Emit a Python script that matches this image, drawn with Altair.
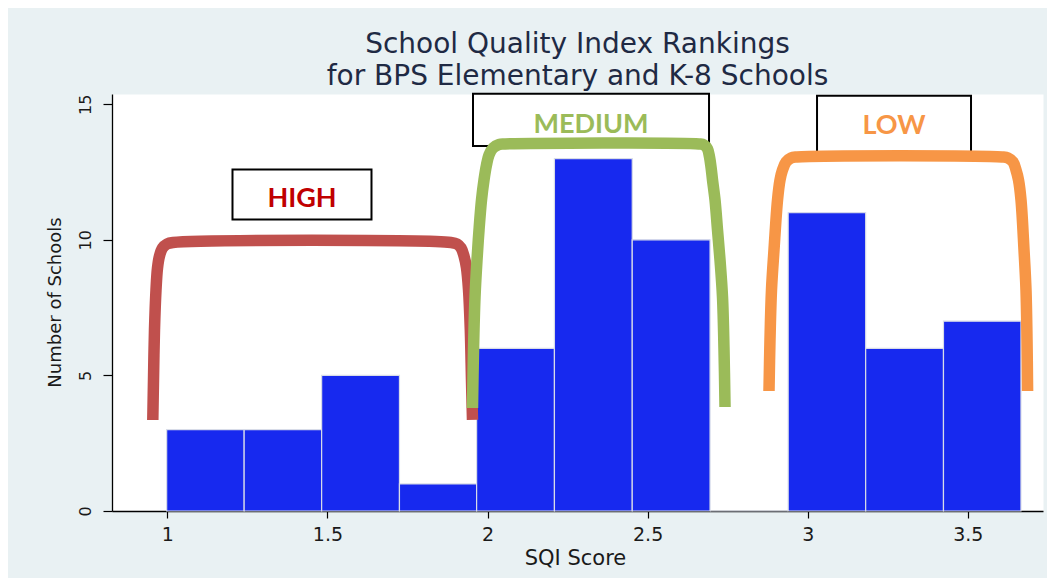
import altair as alt
import pandas as pd

# ---- histogram data ----
bin_edges = [0.998, 1.240, 1.482, 1.725, 1.966, 2.209, 2.452, 2.695, 2.939, 3.181, 3.424, 3.666]
counts = [3, 3, 5, 1, 6, 13, 10, 0, 11, 6, 7]

x_ticks = [1, 1.5, 2, 2.5, 3, 3.5]
y_ticks = [0, 5, 10, 15]

title_lines = ["School Quality Index Rankings", "for BPS Elementary and K-8 Schools"]

# ---- annotation labels ----
label_text = ["HIGH", "MEDIUM", "LOW"]
label_x = [1.4207, 2.3232, 3.2696]
label_y = [11.509, 14.238, 14.201]
label_color = ["#C00000", "#9BBB59", "#F79646"]

box_x1 = [1.2036, 1.9547, 3.0291]
box_x2 = [1.6377, 2.6918, 3.5100]
box_y1 = [12.597, 15.393, 15.316]
box_y2 = [10.752, 13.464, 13.058]

# ---- bracket outlines (data units) ----
high_x = [0.9547, 0.9569, 0.9600, 0.9647, 0.9694, 0.9756, 0.9850, 0.9991, 1.0178,
          1.8860, 1.9048, 1.9173, 1.9266, 1.9344, 1.9407, 1.9463, 1.9500, 1.9531]
high_y = [3.357, 4.832, 6.677, 8.152, 8.963, 9.406, 9.701, 9.849, 9.904,
          9.904, 9.849, 9.701, 9.406, 8.963, 8.152, 6.677, 4.832, 3.357]

med_x = [1.9531, 1.9563, 1.9610, 1.9672, 1.9735, 1.9813, 1.9891, 1.9969, 2.0047, 2.0172, 2.0359, 2.0547,
         2.6605, 2.6761, 2.6871, 2.6933, 2.6980, 2.7027, 2.7105, 2.7183, 2.7261, 2.7339, 2.7386, 2.7418]
med_y = [3.799, 5.939, 7.894, 9.259, 10.365, 11.472, 12.210, 12.763, 13.132, 13.390, 13.519, 13.537,
         13.537, 13.501, 13.353, 13.058, 12.689, 12.210, 11.472, 10.365, 9.259, 7.894, 5.939, 3.836]

low_x = [2.8791, 2.8822, 2.8869, 2.8947, 2.9057, 2.9135, 2.9213, 2.9322, 2.9478, 2.9666,
         3.6068, 3.6255, 3.6411, 3.6505, 3.6583, 3.6661, 3.6755, 3.6817, 3.6849, 3.6867]
low_y = [4.426, 6.308, 8.152, 9.627, 11.472, 12.210, 12.579, 12.874, 13.021, 13.058,
         13.058, 13.021, 12.874, 12.579, 12.210, 11.472, 9.627, 8.152, 6.308, 4.426]

bracket_colors = ["#C0504D", "#9BBB59", "#F79646"]

x_domain = [0.8273, 3.7348]
y_domain = [0, 15.38]

bars = pd.DataFrame({
    "start": bin_edges[:-1],
    "end": bin_edges[1:],
    "count": counts,
})
labels = pd.DataFrame({"text": label_text, "x": label_x, "y": label_y, "c": label_color})
boxes = pd.DataFrame({"x1": box_x1, "x2": box_x2, "y1": box_y1, "y2": box_y2})

xscale = alt.Scale(domain=x_domain, nice=False, zero=False)
yscale = alt.Scale(domain=y_domain, nice=False, zero=False)

base_font = "DejaVu Sans"

bar_layer = alt.Chart(bars).mark_rect(color="#1729EF", stroke="#d8dce8", strokeWidth=1.2).encode(
    x=alt.X("start:Q", scale=xscale,
            axis=alt.Axis(values=x_ticks, format="~g", title="SQI Score", grid=False,
                          tickSize=7, labelPadding=7, labelFontSize=19,
                          titleX=463, titleY=53, titleAlign="center", titleBaseline="alphabetic",
                          titleFontSize=21)),
    x2="end:Q",
    y=alt.Y("count:Q", scale=yscale,
            axis=alt.Axis(values=y_ticks, title="Number of Schools", grid=False,
                          tickSize=9, labelAngle=270, labelAlign="center",
                          labelBaseline="alphabetic", labelPadding=13, labelFontSize=16,
                          titleAngle=270, titleX=-52, titleY=208, titleAlign="center",
                          titleBaseline="alphabetic", titleFontSize=18)),
    y2=alt.datum(0),
)

box_layer = alt.Chart(boxes).mark_rect(fill="white", stroke="black", strokeWidth=2).encode(
    x=alt.X("x1:Q", scale=xscale), x2="x2:Q",
    y=alt.Y("y1:Q", scale=yscale), y2="y2:Q",
)

text_layer = alt.Chart(labels).mark_text(font="Lato", fontWeight="bold", fontSize=27,
                                         baseline="middle", align="center").encode(
    x=alt.X("x:Q", scale=xscale),
    y=alt.Y("y:Q", scale=yscale),
    text="text:N",
    color=alt.Color("c:N", scale=None),
)


def bracket(xs, ys, color):
    df = pd.DataFrame({"x": xs, "y": ys, "i": list(range(len(xs)))})
    return alt.Chart(df).mark_line(color=color, strokeWidth=11.5, strokeCap="butt",
                                   strokeJoin="round", interpolate="catmull-rom").encode(
        x=alt.X("x:Q", scale=xscale),
        y=alt.Y("y:Q", scale=yscale),
        order="i:Q",
    )


chart = alt.layer(
    bar_layer,
    box_layer,
    text_layer,
    bracket(high_x, high_y, bracket_colors[0]),
    bracket(med_x, med_y, bracket_colors[1]),
    bracket(low_x, low_y, bracket_colors[2]),
).properties(
    width=931,
    height=417,
    autosize=alt.AutoSizeParams(type="none"),
    padding={"left": 104, "top": 86, "right": 4, "bottom": 67},
    background="#e9f1f3",
    title=alt.Title(title_lines, fontSize=28, font=base_font, fontWeight="normal",
                    color="#1f2a44", lineHeight=32, anchor="middle",
                    baseline="alphabetic", offset=12, dy=32),
).configure_view(
    fill="white", stroke="transparent"
).configure_axis(
    labelFont=base_font, titleFont=base_font, labelColor="#1a1a1a", titleColor="#1a1a1a",
    titleFontWeight="normal", domainColor="black", tickColor="black",
    domainWidth=1.3, tickWidth=1.2,
)

chart.save("out.html", embed_options={"renderer": "svg", "actions": False})
